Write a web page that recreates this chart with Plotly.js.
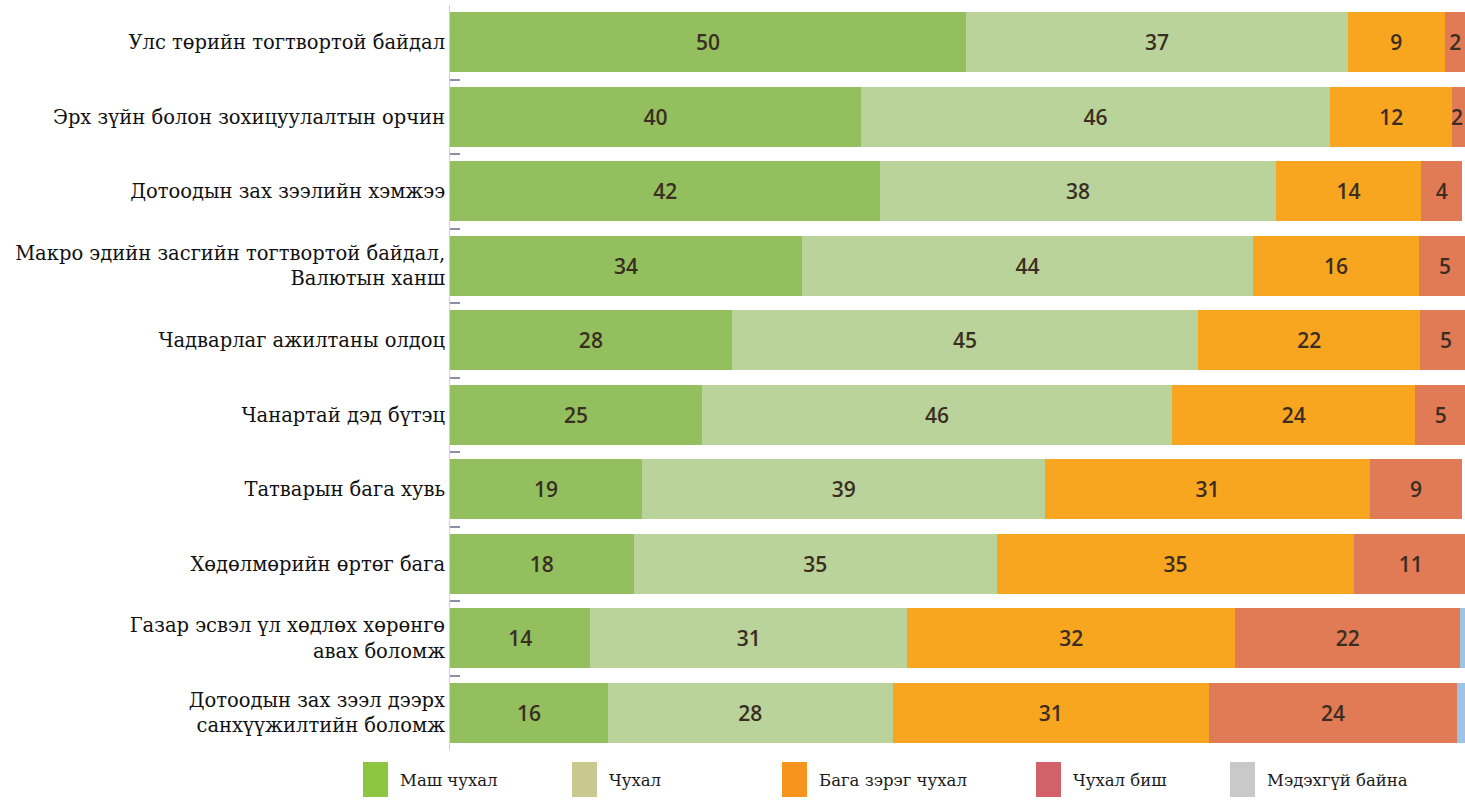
<!DOCTYPE html>
<html>
<head>
<meta charset="utf-8">
<script src="https://cdn.plot.ly/plotly-3.0.1.min.js"></script>
<style>html,body{margin:0;padding:0;background:#fff;}#chart{width:1465px;height:809px;}</style>
</head>
<body>
<div id="chart"></div>
<script>
// Categories (top to bottom)
const categories = [
  "Улс төрийн тогтвортой байдал",
  "Эрх зүйн болон зохицуулалтын орчин",
  "Дотоодын зах зээлийн хэмжээ",
  "Макро эдийн засгийн тогтвортой байдал,<br>Валютын ханш",
  "Чадварлаг ажилтаны олдоц",
  "Чанартай дэд бүтэц",
  "Татварын бага хувь",
  "Хөдөлмөрийн өртөг бага",
  "Газар эсвэл үл хөдлөх хөрөнгө<br>авах боломж",
  "Дотоодын зах зээл дээрх<br>санхүүжилтийн боломж"
];

// Series names
const seriesNames = ["Маш чухал", "Чухал", "Бага зэрэг чухал", "Чухал биш", "Мэдэхгүй байна"];

// Values (bar lengths, %)
const mashChukhal   = [50.0, 39.8, 41.7, 34.1, 27.3, 24.4, 18.6, 17.8, 13.6, 15.3];
const chukhal       = [37.0, 45.5, 38.3, 43.7, 45.2, 45.6, 39.1, 35.2, 30.7, 27.6];
const bagaZereg     = [9.4, 11.8, 14.1, 16.1, 21.5, 23.5, 31.4, 34.6, 31.8, 30.6];
const chukhalBish   = [2, 2, 4, 5, 5, 5, 9, 11, 21.8, 24.1];
const medekhgui     = [0, 0, 0, 0, 0, 0, 0, 0, 2, 2];

// Printed labels
const mashChukhalLabels = [50, 40, 42, 34, 28, 25, 19, 18, 14, 16];
const chukhalLabels     = [37, 46, 38, 44, 45, 46, 39, 35, 31, 28];
const bagaZeregLabels   = [9, 12, 14, 16, 22, 24, 31, 35, 32, 31];
const chukhalBishLabels = [2, 2, 4, 5, 5, 5, 9, 11, 22, 24];
const medekhguiLabels   = ["", "", "", "", "", "", "", "", "", ""];

const barColors    = ["#93bf5e", "#bad39a", "#f8a520", "#e07b56", "#9dc3e6"];
const legendColors = ["#8dc641", "#c9c98f", "#f7941d", "#d2616a", "#c9c9c9"];

const X_MAX = 98.35;
const serif = "DejaVu Serif";
const labelFont = {family: "Open Sans", size: 21, color: "#3a2e22", weight: 600};

const valueSets = [mashChukhal, chukhal, bagaZereg, chukhalBish, medekhgui];
const labelSets = [mashChukhalLabels, chukhalLabels, bagaZeregLabels, chukhalBishLabels, medekhguiLabels];

const annotations = [];
// Labels whose bar runs past the visible edge are pinned to the edge instead of being cut.
const cum = categories.map(() => 0);
const textSets = valueSets.map((vals, i) => vals.map((v, k) => {
  const start = cum[k];
  cum[k] += v;
  const lbl = String(labelSets[i][k]);
  if (lbl && start + v / 2 > X_MAX - 0.6) {
    annotations.push({
      xref: "x", yref: "y", x: X_MAX, y: categories[k],
      xanchor: "right", yanchor: "middle", showarrow: false,
      text: lbl, font: labelFont
    });
    return "";
  }
  return lbl;
}));

const traces = valueSets.map((vals, i) => ({
  type: "bar",
  orientation: "h",
  name: seriesNames[i],
  y: categories,
  x: vals,
  text: textSets[i],
  textposition: "inside",
  insidetextanchor: "middle",
  textangle: 0,
  constraintext: "none",
  textfont: labelFont,
  marker: {color: barColors[i], line: {width: 0}},
  hoverinfo: "skip",
  showlegend: false
}));

// Custom legend (squares + labels) below the plot
const legendX = [363, 572, 782, 1036, 1230]; // px positions of squares
const L = 450, W = 1015, T = 5, H = 745;
const px2x = p => (p - L) / W;
const py2y = p => (T + H - p) / H;
const shapes = [];
legendX.forEach((p, i) => {
  shapes.push({
    type: "rect", xref: "paper", yref: "paper",
    x0: px2x(p), x1: px2x(p + 25), y0: py2y(797), y1: py2y(762),
    fillcolor: legendColors[i], line: {width: 0}
  });
  annotations.push({
    xref: "paper", yref: "paper", x: px2x(p + 35), y: py2y(780),
    xanchor: "left", yanchor: "middle", showarrow: false,
    text: seriesNames[i],
    font: {family: serif, size: 16.5, color: "#1a1a1a"}
  });
});

const layout = {
  width: 1465, height: 809,
  margin: {l: L, r: 0, t: T, b: 809 - T - H},
  barmode: "stack",
  bargap: 0.195,
  paper_bgcolor: "#fff",
  plot_bgcolor: "#fff",
  showlegend: false,
  xaxis: {range: [0, X_MAX], visible: false, fixedrange: true},
  yaxis: {
    autorange: "reversed",
    ticks: "inside", tickson: "boundaries", ticklen: 10, tickwidth: 2, tickcolor: "#8a90a8",
    showline: true, linecolor: "#cfd0d8", linewidth: 1,
    showgrid: false, zeroline: false,
    tickfont: {family: serif, size: 19.5, color: "#111"},
    fixedrange: true
  },
  shapes: shapes,
  annotations: annotations
};

Plotly.newPlot("chart", traces, layout, {displayModeBar: false, staticPlot: true});
</script>
</body>
</html>
